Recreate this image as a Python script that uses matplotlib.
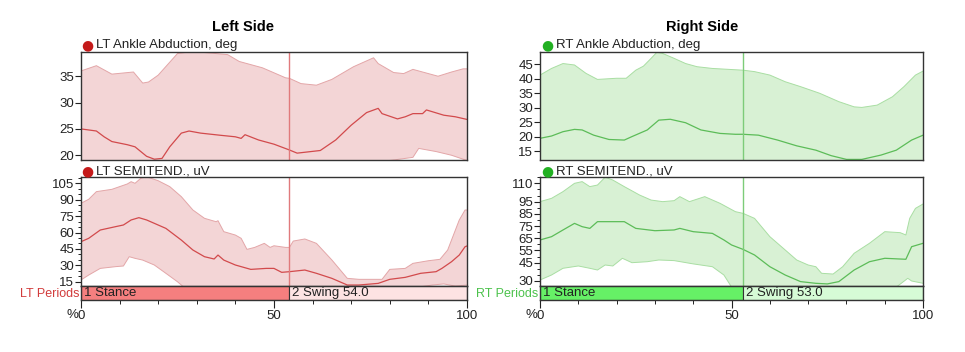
import numpy as np
import matplotlib
matplotlib.use('Agg')
import matplotlib.pyplot as plt
from matplotlib.ticker import MultipleLocator, FixedLocator

plt.rcParams['font.family'] = ['Liberation Sans', 'DejaVu Sans']
plt.rcParams['font.size'] = 9

# ---- LT ankle abduction, deg
lt_ank_up_x = [0, 4, 8, 13.6, 16, 17.5, 20, 25, 29, 38, 41, 47, 53, 54, 57, 61, 65, 70.6, 75.8, 77, 81, 83.6, 86, 89, 92.5, 96, 99, 100]
lt_ank_up = [36.0, 37.0, 35.4, 35.8, 33.7, 33.9, 35.2, 39.3, 39.7, 39.1, 37.8, 36.6, 34.7, 34.6, 33.6, 33.3, 34.4, 36.8, 38.5, 37.4, 35.7, 35.5, 36.3, 35.7, 35.0, 35.8, 36.4, 36.4]
lt_ank_mean_x = [0, 4, 6, 8, 12, 14, 17, 19, 21, 23, 26, 28, 31, 36, 40, 41.5, 42.5, 46, 50, 54, 56, 62, 66, 70, 74, 77, 78, 82, 84, 86, 88.5, 89.5, 94, 97, 100]
lt_ank_mean = [25.0, 24.6, 23.5, 22.6, 22.0, 21.6, 19.8, 19.25, 19.4, 21.6, 24.2, 24.6, 24.2, 23.8, 23.5, 23.2, 23.9, 22.9, 22.1, 21.0, 20.4, 20.9, 22.9, 25.7, 28.1, 28.9, 27.9, 26.9, 27.3, 27.9, 27.9, 28.6, 27.6, 27.3, 26.8]
lt_ank_lo_x = [0, 10, 20, 30, 40, 50, 60, 70, 79, 83, 86, 87.5, 92, 96, 100]
lt_ank_lo = [14, 12, 10, 11, 12, 13, 14, 16, 18.9, 19.3, 19.6, 21.3, 20.7, 20.0, 19.0]

# ---- LT semitend., uV
lt_emg_up_x = [0, 2, 4, 8, 12, 13, 14, 15.5, 17, 20, 23, 26, 29, 32, 35, 35.5, 37, 40, 41.5, 43, 45, 47.5, 49, 50, 53, 54, 55, 58, 61, 65, 69, 72, 78, 80, 84, 86, 90, 93, 95, 98, 99.5, 100]
lt_emg_up = [86.7, 90.4, 97.4, 99.5, 104.4, 106.5, 105, 109.6, 111, 107.4, 102, 92.8, 80.6, 73, 69.9, 70.8, 60.8, 57.7, 54.7, 44.6, 46.4, 50.1, 46.4, 47.9, 46.4, 46.4, 52.2, 54.1, 50.1, 34.9, 18.1, 17.2, 17.2, 26.3, 27.2, 31.8, 34.2, 35.5, 44, 71.4, 80.6, 80.6]
lt_emg_mean_x = [0, 2, 5, 9, 11, 13, 15, 17, 22, 26, 29, 32, 34.5, 35.5, 37, 40, 44, 48, 50, 52, 54, 58, 61, 65, 69, 72, 77, 80, 84, 88, 92, 93.5, 96, 98, 99.5, 100]
lt_emg_mean = [51.6, 54.7, 62.3, 65.4, 66.9, 71.5, 73.6, 71.5, 63.8, 53.1, 44, 37.9, 35.8, 39.4, 34.8, 30.3, 26.3, 27.2, 27.2, 23.6, 24.2, 25.7, 22.7, 18.1, 12, 12, 13.5, 17.2, 19, 22.7, 24.2, 27.2, 33.3, 39.4, 47, 47.7]
lt_emg_lo_x = [0, 2, 5, 9, 11, 12.5, 14, 16, 19, 22, 25, 27, 35, 50, 65, 80, 91, 94, 97, 100]
lt_emg_lo = [16.6, 21.1, 27.2, 28.8, 29.4, 37.9, 36.4, 34.8, 30.3, 22.7, 15, 9, 6, 4, 3, 6, 12, 13, 11, 12]

# ---- RT ankle abduction, deg
rt_ank_up_x = [0, 3, 6, 9, 12, 15, 20, 22.5, 25, 27, 29, 30.5, 32, 35, 38, 41, 45, 49, 53, 56, 60, 64, 68, 73, 78, 82, 84, 88, 92, 95, 98, 100]
rt_ank_up = [41.3, 43.6, 45.3, 44.8, 41.9, 39.8, 40.2, 40.2, 43, 44.4, 47.1, 49.2, 48.8, 47.1, 45.3, 44.2, 43.6, 43.3, 43, 42.5, 41.3, 39, 37.3, 35, 32.1, 30.3, 30.1, 30.9, 33.8, 37.3, 41.3, 42.7]
rt_ank_mean_x = [0, 3, 6, 9, 11, 14, 18, 22, 24, 28, 31, 34, 38, 42, 47, 51, 53, 57, 62, 67, 72, 76, 80, 84, 89, 93, 97, 100]
rt_ank_mean = [19.4, 20.2, 21.7, 22.5, 22.3, 20.5, 19, 18.8, 20, 22.3, 25.7, 26, 24.8, 22.3, 21.1, 20.8, 20.8, 20.5, 18.8, 16.8, 15.3, 13.4, 12.1, 12.1, 13.6, 15.3, 18.8, 20.5]
rt_ank_lo_x = [0, 25, 50, 75, 100]
rt_ank_lo = [2, 2, 0, -2, 0]

# ---- RT semitend., uV
rt_emg_up_x = [0, 3, 6, 9, 11, 13, 15, 17, 19, 22, 26, 29, 32, 35, 36.5, 39, 43, 47, 51, 53, 56, 60, 64, 67, 70, 72, 73.5, 76.5, 79, 82, 86, 90, 94, 95.5, 96.5, 98, 100]
rt_emg_up = [95, 97.7, 103.2, 110, 111.4, 107.3, 108.6, 115, 112.7, 107.3, 100.4, 96.3, 95, 95.8, 99.1, 95, 99.1, 93.6, 86.8, 85.4, 81.3, 66.3, 55.4, 47.2, 43.1, 41.7, 36.3, 35.7, 41.7, 52.7, 60.9, 70.4, 69.6, 67.7, 81.3, 89.5, 93.1]
rt_emg_mean_x = [0, 3, 6, 9, 11, 13, 15, 19, 22, 25, 30, 35, 36.5, 40, 45, 48, 50, 53, 56, 60, 64, 68, 72, 75, 78, 82, 86, 90, 94, 95.5, 97, 100]
rt_emg_mean = [63.6, 66.3, 71.8, 77.2, 74.5, 73.1, 78.6, 78.6, 78.6, 73.1, 71.2, 71.8, 73.1, 70.4, 69, 63.6, 59.5, 55.9, 51.3, 41.7, 34.9, 29.5, 28.1, 27.6, 29.5, 39, 45.8, 48.6, 48, 47.8, 58.1, 60.9]
rt_emg_lo_x = [0, 3, 6, 10, 13, 15, 17, 19, 21.5, 24, 28, 31, 35, 40, 45, 48, 50, 55, 65, 75, 85, 93, 96, 97, 100]
rt_emg_lo = [30.8, 34.9, 40.4, 42.3, 40.4, 39, 43.1, 42.3, 48.6, 45, 45.8, 47.2, 46.7, 44, 41.7, 34.9, 25, 20, 20, 24, 25, 25, 32.2, 30, 28.1]

# periods
lt_swing = 54.0
rt_swing = 53.0
lt_ank_ticks = [20, 25, 30, 35]
lt_emg_ticks = [15, 30, 45, 60, 75, 90, 105]
rt_ank_ticks = [15, 20, 25, 30, 35, 40, 45]
rt_emg_ticks = [30, 45, 55, 65, 75, 85, 95, 110]


def band_panel(ax, up_x, up, m_x, m, lo_x, lo, fillc, edgec, linec, vlc, swing, ylim, ticks, minor=None):
    px = np.concatenate([up_x, lo_x[::-1]])
    py = np.concatenate([up, lo[::-1]])
    ax.fill(px, py, color=fillc, lw=0, zorder=1)
    ax.plot(up_x, up, color=edgec, lw=0.7, zorder=2)
    ax.plot(lo_x, lo, color=edgec, lw=0.7, zorder=2)
    ax.plot(m_x, m, color=linec, lw=0.9, zorder=3)
    ax.plot([swing, swing], [0, 1], color=vlc, lw=1.0, zorder=4,
            transform=ax.get_xaxis_transform())
    ax.set_xlim(0, 100)
    ax.set_ylim(*ylim)
    ax.set_xticks([])
    ax.yaxis.set_major_locator(FixedLocator(ticks))
    if minor:
        ax.yaxis.set_minor_locator(MultipleLocator(minor))
    ax.tick_params(axis='y', which='major', length=4, width=0.8, pad=1, labelsize=9.5, colors='#222222')
    ax.tick_params(axis='y', which='minor', length=2.5, width=0.6)
    for s in ax.spines.values():
        s.set_color('#333333')
        s.set_linewidth(1.0)
        s.set_zorder(5)


def period_bar(ax, swing, stance_c, swing_c, side, labc):
    ax.barh(0, swing, left=0, height=1, color=stance_c, edgecolor='#333333', lw=0.8)
    ax.barh(0, 100 - swing, left=swing, height=1, color=swing_c, edgecolor='#333333', lw=0.8)
    ax.set_xlim(0, 100)
    ax.set_ylim(-0.5, 0.5)
    ax.set_yticks([])
    ax.text(0.8, 0, '1 Stance', va='center', ha='left', fontsize=9.5, color='#222222')
    ax.text(swing + 0.8, 0, '2 Swing %.1f' % swing, va='center', ha='left', fontsize=9.5, color='#222222')
    ax.text(-0.5, -0.05, side + ' Periods', va='center', ha='right', fontsize=9, color=labc)
    ax.text(-0.6, -1.55, '%', va='center', ha='right', fontsize=9.5, color='#222222')
    ax.set_xticks([0, 50, 100])
    ax.xaxis.set_minor_locator(MultipleLocator(10))
    ax.tick_params(axis='x', which='major', length=6, width=0.8, pad=1, labelsize=9.5, colors='#222222')
    ax.tick_params(axis='x', which='minor', length=3, width=0.6)
    for s in ax.spines.values():
        s.set_color('#333333')
        s.set_linewidth(1.0)


fig = plt.figure(figsize=(9.65, 3.52), dpi=100)

L = dict(x=0.0839, w=0.400)
R = dict(x=0.5596, w=0.397)
top_b, top_h = 0.5455, 0.3068
bot_b, bot_h = 0.1875, 0.3097
bar_b, bar_h = 0.1477, 0.0398

red_fill, red_edge, red_line, red_vl = '#f3d5d6', '#e3a6a8', '#d24a4c', '#e07a7c'
grn_fill, grn_edge, grn_line, grn_vl = '#d8f1d4', '#a9dea3', '#5cbc58', '#7dcc79'

ax1 = fig.add_axes([L['x'], top_b, L['w'], top_h])
band_panel(ax1, lt_ank_up_x, lt_ank_up, lt_ank_mean_x, lt_ank_mean, lt_ank_lo_x, lt_ank_lo,
           red_fill, red_edge, red_line, red_vl, lt_swing, (19.1, 39.6), lt_ank_ticks)
ax2 = fig.add_axes([L['x'], bot_b, L['w'], bot_h])
band_panel(ax2, lt_emg_up_x, lt_emg_up, lt_emg_mean_x, lt_emg_mean, lt_emg_lo_x, lt_emg_lo,
           red_fill, red_edge, red_line, red_vl, lt_swing, (11.1, 110.8), lt_emg_ticks, minor=5)
ax3 = fig.add_axes([L['x'], bar_b, L['w'], bar_h])
period_bar(ax3, lt_swing, '#f57f7f', '#fde3e3', 'LT', '#d23c3c')

ax4 = fig.add_axes([R['x'], top_b, R['w'], top_h])
band_panel(ax4, rt_ank_up_x, rt_ank_up, rt_ank_mean_x, rt_ank_mean, rt_ank_lo_x, rt_ank_lo,
           grn_fill, grn_edge, grn_line, grn_vl, rt_swing, (11.9, 49.3), rt_ank_ticks)
ax5 = fig.add_axes([R['x'], bot_b, R['w'], bot_h])
band_panel(ax5, rt_emg_up_x, rt_emg_up, rt_emg_mean_x, rt_emg_mean, rt_emg_lo_x, rt_emg_lo,
           grn_fill, grn_edge, grn_line, grn_vl, rt_swing, (25.9, 115.2), rt_emg_ticks, minor=5)
ax6 = fig.add_axes([R['x'], bar_b, R['w'], bar_h])
period_bar(ax6, rt_swing, '#66f066', '#d6fbd6', 'RT', '#4cc24c')

# headers
fig.text(243 / 965, 1 - 27 / 352, 'Left Side', ha='center', va='center', fontsize=10.5, fontweight='bold')
fig.text(702 / 965, 1 - 27 / 352, 'Right Side', ha='center', va='center', fontsize=10.5, fontweight='bold')

labels = [(87, 45, '#c41a1a', 'LT Ankle Abduction, deg'),
          (87, 171, '#c41a1a', 'LT SEMITEND., uV'),
          (547, 45, '#22b022', 'RT Ankle Abduction, deg'),
          (547, 171, '#22b022', 'RT SEMITEND., uV')]
for px, py, c, t in labels:
    fig.text(px / 965, 1 - py / 352, '\u25cf', ha='center', va='center', fontsize=10, color=c,
             family=['DejaVu Sans'])
    fig.text((px + 8.5) / 965, 1 - py / 352, t, ha='left', va='center', fontsize=9.5, color='#222222')

plt.savefig('out.png', dpi=100)
